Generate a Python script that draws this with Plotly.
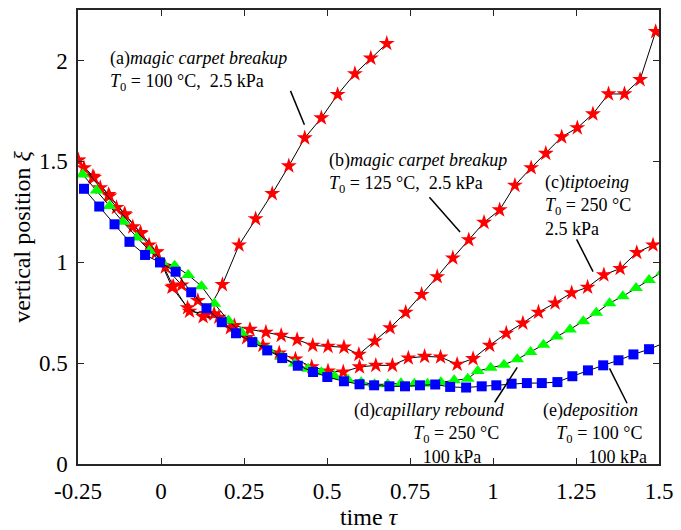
import plotly.graph_objects as go

# ---- data ----
tau_a = [-0.25, -0.205, -0.158, -0.11, -0.062, -0.013, 0.037, 0.086, 0.136, 0.185,
         0.235, 0.285, 0.335, 0.385, 0.433, 0.483, 0.532, 0.584, 0.632, 0.680]
xi_a = [1.505, 1.425, 1.335, 1.24, 1.147, 1.05, 0.88, 0.757, 0.745, 0.889,
        1.085, 1.215, 1.34, 1.477, 1.616, 1.715, 1.831, 1.934, 2.011, 2.084]

tau_b = [-0.249, -0.202, -0.155, -0.108, -0.061, -0.014, 0.033, 0.080, 0.127, 0.174,
         0.221, 0.268, 0.316, 0.362, 0.41, 0.457, 0.503, 0.551, 0.596, 0.644,
         0.69, 0.737, 0.785, 0.832, 0.879, 0.927, 0.973, 1.02, 1.066, 1.115,
         1.159, 1.207, 1.254, 1.301, 1.348, 1.396, 1.443, 1.49]
xi_b = [1.506, 1.419, 1.328, 1.235, 1.142, 1.052, 0.876, 0.774, 0.73, 0.727,
        0.686, 0.667, 0.653, 0.637, 0.616, 0.588, 0.583, 0.579, 0.543, 0.609,
        0.675, 0.751, 0.84, 0.928, 1.021, 1.111, 1.197, 1.259, 1.381, 1.468,
        1.539, 1.621, 1.666, 1.735, 1.834, 1.834, 1.905, 2.143]

tau_c = [-0.232, -0.183, -0.134, -0.085, -0.036, 0.013, 0.062, 0.111, 0.160, 0.209,
         0.258, 0.307, 0.356, 0.405, 0.454, 0.503, 0.549, 0.598, 0.647, 0.697,
         0.745, 0.794, 0.842, 0.892, 0.94, 0.99, 1.04, 1.09, 1.137, 1.187,
         1.237, 1.285, 1.334, 1.383, 1.433, 1.482, 1.531]
xi_c = [1.468, 1.369, 1.271, 1.175, 1.085, 0.976, 0.887, 0.81, 0.744, 0.675,
        0.626, 0.588, 0.55, 0.52, 0.481, 0.461, 0.456, 0.481, 0.489, 0.489,
        0.525, 0.533, 0.53, 0.494, 0.522, 0.588, 0.648, 0.698, 0.752, 0.798,
        0.848, 0.876, 0.937, 0.969, 1.048, 1.085, 1.115]

tau_d = [-0.236, -0.194, -0.155, -0.115, -0.073, -0.035, 0.003, 0.041, 0.082, 0.122,
         0.161, 0.203, 0.243, 0.283, 0.323, 0.363, 0.403, 0.443, 0.483, 0.523,
         0.563, 0.603, 0.643, 0.683, 0.723, 0.763, 0.803, 0.843, 0.883, 0.924,
         0.954, 0.993, 1.033, 1.073, 1.113, 1.152, 1.192, 1.232, 1.272, 1.311,
         1.351, 1.391, 1.431, 1.47, 1.51]
xi_d = [1.435, 1.356, 1.279, 1.2, 1.123, 1.057, 1.0, 0.983, 0.937, 0.881,
        0.794, 0.711, 0.65, 0.605, 0.568, 0.53, 0.498, 0.472, 0.455, 0.435,
        0.418, 0.405, 0.395, 0.395, 0.4, 0.398, 0.398, 0.405, 0.415, 0.423,
        0.461, 0.477, 0.492, 0.519, 0.555, 0.591, 0.632, 0.667, 0.708, 0.749,
        0.797, 0.831, 0.872, 0.912, 0.952]

tau_e = [-0.232, -0.186, -0.14, -0.095, -0.048, -0.003, 0.044, 0.091, 0.137, 0.183,
         0.226, 0.275, 0.32, 0.365, 0.412, 0.458, 0.501, 0.551, 0.598, 0.642,
         0.688, 0.735, 0.78, 0.826, 0.871, 0.919, 0.966, 1.01, 1.056, 1.102,
         1.147, 1.194, 1.239, 1.286, 1.332, 1.378, 1.423, 1.47, 1.516]
xi_e = [1.364, 1.276, 1.188, 1.101, 1.036, 0.999, 0.953, 0.851, 0.772, 0.703,
        0.648, 0.604, 0.563, 0.525, 0.487, 0.456, 0.431, 0.41, 0.395, 0.39,
        0.385, 0.385, 0.39, 0.394, 0.382, 0.379, 0.385, 0.39, 0.398, 0.401,
        0.401, 0.406, 0.435, 0.464, 0.489, 0.514, 0.543, 0.569, 0.60]

x_ticks = [-0.25, 0, 0.25, 0.5, 0.75, 1, 1.25, 1.5]
x_ticklabels = ["-0.25", "0", "0.25", "0.5", "0.75", "1", "1.25", "1.5"]
y_ticks = [0, 0.5, 1, 1.5, 2]
y_ticklabels = ["0", "0.5", "1", "1.5", "2"]

FONT = "Liberation Serif"
NB = "\u00a0"

fig = go.Figure()

def add_series(t, v, color, symbol, size):
    fig.add_trace(go.Scatter(
        x=t, y=v, mode="lines+markers",
        line=dict(color="black", width=1),
        marker=dict(color=color, symbol=symbol, size=size, line=dict(width=0)),
        showlegend=False, cliponaxis=True))

add_series(tau_a, xi_a, "#ff0000", "star", 12)
add_series(tau_b, xi_b, "#ff0000", "star", 12)
add_series(tau_c, xi_c, "#ff0000", "star", 12)
add_series(tau_d, xi_d, "#00ff00", "triangle-up", 12)
add_series(tau_e, xi_e, "#0000ff", "square", 10)

ann_font = dict(family=FONT, size=18, color="black")
T0 = "<i>T</i><sub>0</sub>"
labels = [
    (-0.1606, 1.946, "left", "(a)<i>magic carpet breakup</i><br>" + T0 + " = 100 °C," + NB + NB + "2.5 kPa"),
    (0.5013, 1.443, "left", "(b)<i>magic carpet breakup</i><br>" + T0 + " = 125 °C," + NB + NB + "2.5 kPa"),
    (1.1513, 1.280, "left", "(c)<i>tiptoeing</i><br>" + T0 + " = 250 °C<br>2.5 kPa"),
    (1.041, 0.1505, "right", "(d)<i>capillary rebound</i><br>" + T0 + " = 250 °C" + NB + "<br>100 kPa" + NB * 5),
    (1.470, 0.1505, "right", "(e)<i>deposition</i>" + NB * 2 + "<br>" + T0 + " = 100 °C" + NB + "<br>100 kPa"),
]
for x, y, al, t in labels:
    fig.add_annotation(x=x, y=y, xref="x", yref="y", text=t, showarrow=False,
                       xanchor=al, yanchor="middle", align=al, font=ann_font)

leaders = [
    (0.390, 1.849, 0.432, 1.681),
    (0.8085, 1.322, 0.9008, 1.1495),
    (1.2518, 1.1135, 1.3013, 0.9536),
    (1.005, 0.306, 1.073, 0.4785),
    (1.351, 0.4736, 1.4038, 0.301),
]
for x0, y0, x1, y1 in leaders:
    fig.add_shape(type="line", x0=x0, y0=y0, x1=x1, y1=y1, xref="x", yref="y",
                  line=dict(color="black", width=1.5))

axis_common = dict(
    showgrid=False, zeroline=False, showline=True, linecolor="#262626", linewidth=1.5,
    mirror="ticks", ticks="inside", ticklen=6, tickwidth=1, tickcolor="#262626",
    tickfont=dict(family=FONT, size=23, color="black"),
)
fig.update_xaxes(range=[-0.25, 1.5], tickvals=x_ticks, ticktext=x_ticklabels,
                 title=dict(text="time <i>τ</i>", font=dict(family=FONT, size=24, color="black"), standoff=0),
                 ticklabelstandoff=6, **axis_common)
fig.update_yaxes(range=[0, 2.25], tickvals=y_ticks, ticktext=y_ticklabels,
                 title=dict(text="vertical position <i>ξ</i>", font=dict(family=FONT, size=24, color="black"), standoff=2),
                 ticklabelstandoff=4, **axis_common)

fig.update_layout(
    width=681, height=530,
    margin=dict(l=78, r=16, t=8, b=66),
    plot_bgcolor="white", paper_bgcolor="white",
    font=dict(family=FONT),
)

fig.write_html("out.html")
